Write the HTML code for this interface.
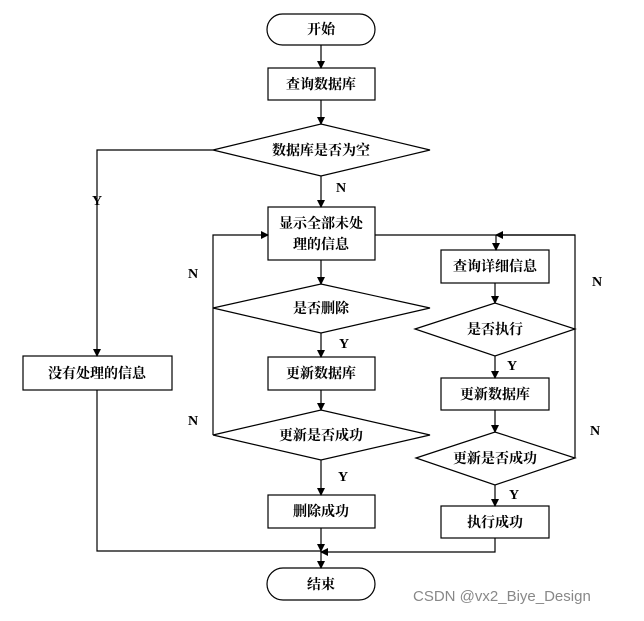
<!DOCTYPE html>
<html><head><meta charset="utf-8"><style>
body{margin:0;background:#fff}
svg text{font-family:"Liberation Serif","Noto Serif CJK SC",serif;font-weight:bold;font-size:14px;fill:#000}
</style></head><body>
<svg width="644" height="616" viewBox="0 0 644 616" xmlns="http://www.w3.org/2000/svg">
<defs><marker id="a" markerWidth="8" markerHeight="8" refX="7" refY="4" orient="auto" markerUnits="userSpaceOnUse"><path d="M0,0 L8,4 L0,8 z" fill="#000"/></marker></defs>
<g fill="none" stroke="#000" stroke-width="1.2">
<rect x="267" y="14" width="108" height="31" rx="15.5"/>
<rect x="268" y="68" width="107" height="32"/>
<polygon points="213,150 321,124 430,150 321,176"/>
<rect x="268" y="207" width="107" height="53"/>
<polygon points="213,308 321,284 430,308 321,333"/>
<rect x="268" y="357" width="107" height="33"/>
<polygon points="213,435 321,410 430,435 321,460"/>
<rect x="268" y="495" width="107" height="33"/>
<rect x="267" y="568" width="108" height="32" rx="16"/>
<rect x="23" y="356" width="149" height="34"/>
<rect x="441" y="250" width="108" height="33"/>
<polygon points="415,329 495,303 575,329 495,356"/>
<rect x="441" y="378" width="108" height="32"/>
<polygon points="416,458 495,432 575,458 495,485"/>
<rect x="441" y="506" width="108" height="32"/>
<path d="M321 45V68" marker-end="url(#a)"/>
<path d="M321 100V124" marker-end="url(#a)"/>
<path d="M321 176V207" marker-end="url(#a)"/>
<path d="M321 260V284" marker-end="url(#a)"/>
<path d="M321 333V357" marker-end="url(#a)"/>
<path d="M321 390V410" marker-end="url(#a)"/>
<path d="M321 460V495" marker-end="url(#a)"/>
<path d="M321 528V551" marker-end="url(#a)"/>
<path d="M321 551V568" marker-end="url(#a)"/>
<path d="M213 150H97V356" marker-end="url(#a)"/>
<path d="M97 390V551H321"/>
<path d="M213 435H213V235H268" marker-end="url(#a)"/>
<path d="M213 308H213"/>
<path d="M375 235H575V458"/>
<path d="M575 235H496" marker-end="url(#a)"/>
<path d="M496 235V250" marker-end="url(#a)"/>
<path d="M495 283V303" marker-end="url(#a)"/>
<path d="M495 356V378" marker-end="url(#a)"/>
<path d="M495 410V432" marker-end="url(#a)"/>
<path d="M495 485V506" marker-end="url(#a)"/>
<path d="M495 538V552H321" marker-end="url(#a)"/>
</g>
<g text-anchor="middle">
<text x="321" y="34">开始</text>
<text x="321" y="89">查询数据库</text>
<text x="321" y="155">数据库是否为空</text>
<text x="321" y="228">显示全部未处</text>
<text x="321" y="249">理的信息</text>
<text x="321" y="313">是否删除</text>
<text x="321" y="378">更新数据库</text>
<text x="321" y="440">更新是否成功</text>
<text x="321" y="516">删除成功</text>
<text x="321" y="589">结束</text>
<text x="97" y="378">没有处理的信息</text>
<text x="495" y="271">查询详细信息</text>
<text x="495" y="334">是否执行</text>
<text x="495" y="399">更新数据库</text>
<text x="495" y="463">更新是否成功</text>
<text x="495" y="527">执行成功</text>
<text x="97" y="205">Y</text>
<text x="341" y="192">N</text>
<text x="193" y="278">N</text>
<text x="344" y="348">Y</text>
<text x="193" y="425">N</text>
<text x="343" y="481">Y</text>
<text x="597" y="286">N</text>
<text x="512" y="370">Y</text>
<text x="595" y="435">N</text>
<text x="514" y="499">Y</text>
</g>
<text x="413" y="601" style="font-family:'Liberation Sans',sans-serif;font-weight:normal;font-size:15px;fill:#888">CSDN @vx2_Biye_Design</text>
</svg>
</body></html>
